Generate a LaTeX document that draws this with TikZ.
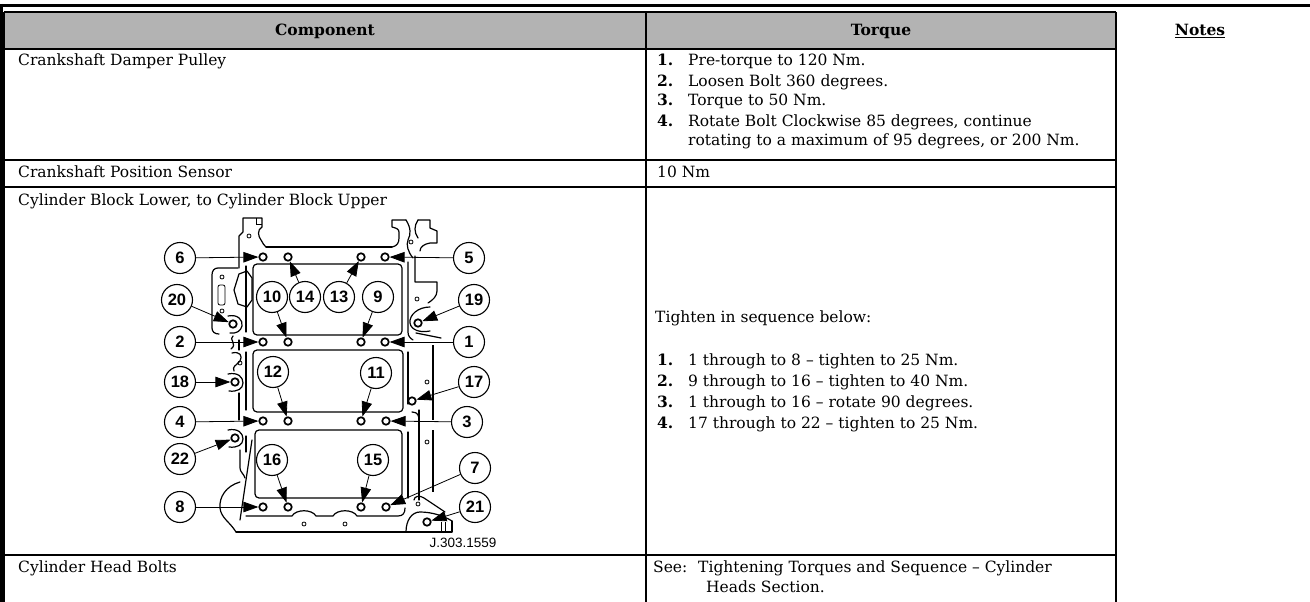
\documentclass[tikz,border=0pt]{standalone}
\usepackage{fontspec}
\setmainfont{DejaVu Serif}
\newfontfamily\partfont{Liberation Sans}
\usetikzlibrary{arrows.meta}
\definecolor{headgray}{RGB}{179,179,179}

\begin{document}
\begin{tikzpicture}[x=1pt,y=-1pt,font=\fontsize{15.5}{20.5}\selectfont,
  txt/.style={anchor=base west,inner sep=0pt},
  stepno/.style={anchor=base west,inner sep=0pt,font=\fontsize{15.5}{20.5}\selectfont\bfseries},
  head/.style={anchor=base,inner sep=0pt,font=\fontsize{15.5}{20.5}\selectfont\bfseries},
  num/.style={circle,draw,fill=white,line width=1.1pt,minimum size=31pt,inner sep=0pt,font=\partfont\bfseries\fontsize{16.5}{16.5}\selectfont},
  hole/.style={circle,draw,line width=1.7pt,minimum size=7.5pt,inner sep=0pt},
  callout/.style={line width=0.8pt,-{Triangle[length=15pt,width=10.5pt]}},
  part/.style={line width=1.2pt,line join=round,line cap=round},
  thin/.style={line width=0.8pt}]

\useasboundingbox (0,0) rectangle (1310,602);

\draw[line width=2.7pt] (0,5.3) -- (1310,5.3);
\draw[line width=2.7pt] (1.3,4) -- (1.3,602);

\fill[headgray] (4,12) rectangle (1116,49);
\draw[line width=1.2pt] (4,12) -- (1116,12);
\draw[line width=1.2pt] (4,12) -- (4,602);
\draw[line width=1.2pt] (646,12) -- (646,602);
\draw[line width=1.2pt] (1116,12) -- (1116,602);
\draw[line width=1.2pt] (4,49) -- (1116,49);
\draw[line width=1.2pt] (4,160) -- (1116,160);
\draw[line width=1.2pt] (4,187) -- (1116,187);
\draw[line width=1.2pt] (4,555) -- (1116,555);

\node[head] (hcomp) at (325,36) {Component};
\node[head] (htorque) at (881,36) {Torque};
\node[head] (hnotes) at (1200,36) {\underline{Notes}};

\node[txt] (pulley) at (18,66) {Crankshaft Damper Pulley};
\node[stepno] (pulleyna) at (657,66) {1.};
\node[txt] (pulleya) at (688,66) {Pre-torque to 120 Nm.};
\node[stepno] (pulleynb) at (657,86) {2.};
\node[txt] (pulleyb) at (688,86) {Loosen Bolt 360 degrees.};
\node[stepno] (pulleync) at (657,106) {3.};
\node[txt] (pulleyc) at (688,106) {Torque to 50 Nm.};
\node[stepno] (pulleynd) at (657,126) {4.};
\node[txt] (pulleyd) at (688,126) {Rotate Bolt Clockwise 85 degrees, continue};
\node[txt] (pulleye) at (688,146) {rotating to a maximum of 95 degrees, or 200 Nm.};

\node[txt] (sensor) at (18,177) {Crankshaft Position Sensor};
\node[txt] (sensort) at (657,177) {10 Nm};

\node[txt] (block) at (18,205) {Cylinder Block Lower, to Cylinder Block Upper};
\node[txt] (blockintro) at (655,322) {Tighten in sequence below:};
\node[stepno] (blockna) at (657,365) {1.};
\node[txt] (blocka) at (688,365) {1 through to 8 – tighten to 25 Nm.};
\node[stepno] (blocknb) at (657,386) {2.};
\node[txt] (blockb) at (688,386) {9 through to 16 – tighten to 40 Nm.};
\node[stepno] (blocknc) at (657,407) {3.};
\node[txt] (blockc) at (688,407) {1 through to 16 – rotate 90 degrees.};
\node[stepno] (blocknd) at (657,428) {4.};
\node[txt] (blockd) at (688,428) {17 through to 22 – tighten to 25 Nm.};

\node[txt] (head) at (18,572) {Cylinder Head Bolts};
\node[txt] (headsee) at (653,572) {See:};
\node[txt] (headref) at (698,572) {Tightening Torques and Sequence – Cylinder};
\node[txt] (headrefb) at (706,592) {Heads Section.};

\draw[part] (266,247) -- (392,247);
\draw[part] (239,268) -- (239,236) -- (243,232) -- (243,218) -- (262,218) -- (262,227)
  .. controls (257,230) and (258,236) .. (261,240) .. controls (263,243) and (264,246) .. (266,247);
\draw[thin] (256,218) -- (256,224) -- (262,224);
\draw[thin] (249,236) circle (2);

\draw[part] (392,247) .. controls (397,246) and (399,243) .. (399,238) -- (399,232)
  .. controls (399,229) and (396,228) .. (392,227) -- (392,220) -- (406,220);
\draw[part] (406,220) .. controls (411,228) and (411,234) .. (408,240) .. controls (406,245) and (408,252) .. (413,258);
\draw[part] (418,220) .. controls (414,226) and (414,232) .. (418,238);
\draw[part] (418,220) -- (430,220) -- (430,228) -- (437,231) -- (437,243) -- (430,243)
  .. controls (424,244) and (420,247) .. (420,251);
\draw[thin] (411,242) circle (2);

\draw[part] (415,256) -- (415,282) -- (437,282) -- (437,291) .. controls (437,296) and (433,300) .. (428,303);
\draw[part] (430,307) .. controls (418,307) and (409,315) .. (410,323) .. controls (411,330) and (420,333) .. (430,331);
\draw[part] (416,333) -- (441,338);
\draw[thin] (417,299) circle (2);
\draw[part] (408,262) -- (408,332) .. controls (408,336) and (410,338) .. (413,340);
\draw[part] (408,352) -- (408,404);
\draw[part] (408,432) -- (408,498);
\draw[line width=2pt] (433,345) -- (433,420);
\draw[line width=2pt] (433,430) -- (433,492);
\draw[part] (419,410) -- (419,500);
\draw[part] (412,412) .. controls (418,412) and (419,416) .. (419,420);
\draw[thin] (427,382) circle (2);
\draw[thin] (427,442) circle (2);

\draw[part, rounded corners=4pt] (253,264) rectangle (402,335);
\draw[part, rounded corners=4pt] (253,350) rectangle (403,412);
\draw[part, rounded corners=4pt] (255,430) rectangle (402,498);

\draw[part] (238,268) -- (218,268) .. controls (214,268) and (212,271) .. (212,275) -- (212,328)
  .. controls (212,332) and (215,334) .. (219,334);
\draw[thin, rounded corners=2pt] (218,285) rectangle (225,305);
\draw[thin] (222,277) circle (2);
\draw[thin] (222,311) circle (2);
\draw[part] (239,274) -- (247,271) -- (252,278) -- (252,300) -- (247,307) -- (238,304) -- (234,290) -- cycle;
\draw[part] (246,266) -- (246,332);
\draw[part] (246,352) -- (246,410);
\draw[part] (228,316) .. controls (238,314) and (243,320) .. (242,326) .. controls (241,331) and (236,334) .. (230,333);
\draw[part] (233,336) .. controls (228,339) and (238,344) .. (231,349);
\draw[part] (239,340) -- (239,350);
\draw[part] (232,353) .. controls (240,351) and (243,356) .. (240,361) .. controls (236,366) and (232,366) .. (234,371);
\draw[thin] (240,363) circle (2);
\draw[part] (228,374) .. controls (238,372) and (243,377) .. (243,383) .. controls (243,389) and (237,392) .. (229,391);
\draw[part] (239,393) -- (239,420);
\draw[part] (228,430) .. controls (238,428) and (243,433) .. (243,439) .. controls (243,445) and (237,448) .. (229,447);
\draw[part] (240,450) -- (240,468) .. controls (240,472) and (244,474) .. (245,478);
\draw[part] (252,440) -- (240,520);
\draw[part] (246,436) -- (246,452);
\draw[part] (240,482) .. controls (226,486) and (219,497) .. (220,508) .. controls (221,518) and (230,522) .. (236,532);

\draw[part] (236,532) -- (452,532) -- (452,521);
\draw[part] (246,516) -- (292,516) .. controls (296,509) and (312,509) .. (316,516) -- (333,516)
  .. controls (337,509) and (353,509) .. (357,516) -- (398,516) .. controls (403,516) and (405,513) .. (405,508);
\draw[thin] (304,524) circle (2);
\draw[thin] (345,524) circle (2);
\draw[part] (406,532) .. controls (406,520) and (412,512) .. (420,512) .. controls (432,512) and (444,516) .. (452,521);
\draw[part] (414,500) .. controls (414,496) and (420,495) .. (424,498) -- (445,512);
\draw[thin] (418,504) circle (2);
\draw[thin] (441,522) -- (441,531);
\draw[thin] (445,522) -- (445,531);

\node[hole] (h6) at (263,257) {};
\node[hole] (h14) at (288,257) {};
\node[hole] (h13) at (361,257) {};
\node[hole] (h5) at (385,257) {};
\node[hole] (h2) at (263,342) {};
\node[hole] (h10) at (288,342) {};
\node[hole] (h9) at (361,342) {};
\node[hole] (h1) at (385,342) {};
\node[hole] (h4) at (263,421) {};
\node[hole] (h12) at (288,421) {};
\node[hole] (h11) at (361,421) {};
\node[hole] (h3) at (386,421) {};
\node[hole] (h8) at (263,507) {};
\node[hole] (h16) at (288,507) {};
\node[hole] (h15) at (361,507) {};
\node[hole] (h7) at (386,507) {};
\node[hole] (h20) at (233,324) {};
\node[hole] (h19) at (418,323) {};
\node[hole] (h18) at (235,382) {};
\node[hole] (h17) at (412,401) {};
\node[hole] (h22) at (235,438) {};
\node[hole] (h21) at (427,522) {};

\node[num] (c6) at (180,258) {6};
\node[num] (c5) at (469,258) {5};
\node[num] (c10) at (272,297) {10};
\node[num] (c14) at (305,297) {14};
\node[num] (c13) at (339,297) {13};
\node[num] (c9) at (378,297) {9};
\node[num] (c20) at (177,300) {20};
\node[num] (c19) at (474,300) {19};
\node[num] (c2) at (180,342) {2};
\node[num] (c1) at (469,342) {1};
\node[num] (c18) at (180,382) {18};
\node[num] (c12) at (273,372) {12};
\node[num] (c11) at (376,373) {11};
\node[num] (c17) at (474,382) {17};
\node[num] (c4) at (180,422) {4};
\node[num] (c3) at (467,422) {3};
\node[num] (c22) at (180,459) {22};
\node[num] (c16) at (272,460) {16};
\node[num] (c15) at (373,460) {15};
\node[num] (c7) at (475,468) {7};
\node[num] (c8) at (180,507) {8};
\node[num] (c21) at (475,507) {21};

\draw[callout] (c6) -- (h6);
\draw[callout] (c5) -- (h5);
\draw[callout] (c10) -- (h10);
\draw[callout] (c14) -- (h14);
\draw[callout] (c13) -- (h13);
\draw[callout] (c9) -- (h9);
\draw[callout] (c20) -- (h20);
\draw[callout] (c19) -- (h19);
\draw[callout] (c2) -- (h2);
\draw[callout] (c1) -- (h1);
\draw[callout] (c18) -- (h18);
\draw[callout] (c12) -- (h12);
\draw[callout] (c11) -- (h11);
\draw[callout] (c17) -- (h17);
\draw[callout] (c4) -- (h4);
\draw[callout] (c3) -- (h3);
\draw[callout] (c22) -- (h22);
\draw[callout] (c16) -- (h16);
\draw[callout] (c15) -- (h15);
\draw[callout] (c7) -- (h7);
\draw[callout] (c8) -- (h8);
\draw[callout] (c21) -- (h21);

\node[anchor=base,inner sep=0pt,font=\partfont\fontsize{13.5}{14}\selectfont] (figref) at (463,547) {J.303.1559};

\end{tikzpicture}
\end{document}
